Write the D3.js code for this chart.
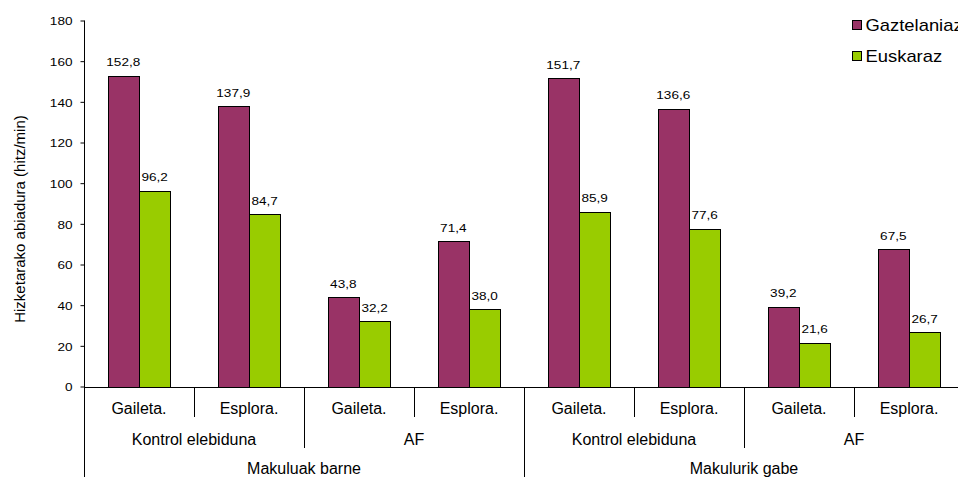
<!DOCTYPE html>
<html><head><meta charset="utf-8">
<script src="https://cdn.jsdelivr.net/npm/d3@7"></script>
<style>
html,body{margin:0;padding:0;background:#fff;overflow:hidden}
svg{display:block;font-family:"Liberation Sans",Arial,sans-serif}
</style></head>
<body>
<svg id="c" width="958" height="477"></svg>
<script>
const categories = ["Gaileta.","Esplora.","Gaileta.","Esplora.","Gaileta.","Esplora.","Gaileta.","Esplora."];
const groups = ["Kontrol elebiduna","AF","Kontrol elebiduna","AF"];
const supergroups = ["Makuluak barne","Makulurik gabe"];
const seriesNames = ["Gaztelaniaz","Euskaraz"];
const gaztelaniaz = [152.8,137.9,43.8,71.4,151.7,136.6,39.2,67.5];
const euskaraz = [96.2,84.7,32.2,38.0,85.9,77.6,21.6,26.7];
const yTicks = [0,20,40,60,80,100,120,140,160,180];
const yTitle = "Hizketarako abiadura (hitz/min)";
const colors = ["#993366","#99cc00"];

const svg = d3.select("#c");
const X0 = 84, CW = 110;
const idx = d3.range(categories.length);
const x = d3.scaleBand().domain(idx).range([X0, X0 + CW*categories.length]).padding(0);
const xs = d3.scaleBand().domain([0,1]).range([0, x.bandwidth()]).paddingInner(0).paddingOuter(0.75);
const y = d3.scaleLinear().domain([0,180]).range([386.5, 20.5]);
const sx = 1.15;

// bars
const series = [gaztelaniaz, euskaraz];
series.forEach((vals, s) => {
  svg.append("g").selectAll("rect").data(vals).join("rect")
    .attr("x", (d,i) => Math.round(x(i) + xs(s)) + 0.5)
    .attr("y", d => Math.round(y(d)) + 0.5)
    .attr("width", Math.round(xs.bandwidth()))
    .attr("height", d => Math.round(y(0)) - Math.round(y(d)))
    .attr("fill", colors[s]).attr("stroke", "#000").attr("stroke-width", 1);
  svg.append("g").selectAll("text").data(vals).join("text")
    .attr("transform", (d,i) => `translate(${x(i) + xs(s) + xs.bandwidth()/2},${y(d) - 9.5}) scale(${sx},1)`)
    .attr("text-anchor", "middle").attr("font-size", 11.8).attr("fill", "#000")
    .text(d => d.toFixed(1).replace(".", ","));
});

// y axis
const yAxis = svg.append("g").attr("transform", `translate(${X0 + 0.5},0)`)
  .call(d3.axisLeft(y).tickValues(yTicks).tickSize(4).tickSizeOuter(0));
yAxis.select(".domain").remove();
yAxis.selectAll(".tick line").attr("stroke", "#000");
yAxis.selectAll(".tick text").attr("x", null).attr("dy", null)
  .attr("transform", "translate(-12,4.2) scale(" + sx + ",1)")
  .attr("font-size", 11.8).attr("font-family", "Liberation Sans, Arial, sans-serif").attr("fill", "#000");
svg.append("line").attr("x1", X0 + 0.5).attr("x2", X0 + 0.5).attr("y1", y(180)).attr("y2", 477).attr("stroke", "#000");

// x axis base line
svg.append("line").attr("x1", X0).attr("x2", 958).attr("y1", Math.round(y(0)) + 0.5).attr("y2", Math.round(y(0)) + 0.5).attr("stroke", "#000");

const base = Math.round(y(0)) + 0.5;
// level ticks
const bounds = d3.range(categories.length + 1);
bounds.forEach(b => {
  const xx = Math.round(X0 + b*CW) + 0.5;
  let y2 = 417;
  if (b % 2 === 0) y2 = 448;
  if (b % 4 === 0) y2 = 477;
  svg.append("line").attr("x1", xx).attr("x2", xx).attr("y1", base).attr("y2", y2).attr("stroke", "#000");
});
const lab = svg.append("g").attr("font-size", 16).attr("fill", "#000").attr("text-anchor", "middle");
categories.forEach((c,i) => lab.append("text").attr("x", x(i) + CW/2).attr("y", 413.5).text(c));
groups.forEach((g,i) => lab.append("text").attr("x", X0 + CW*(2*i + 1)).attr("y", 444.5).text(g));
supergroups.forEach((g,i) => lab.append("text").attr("x", X0 + CW*(4*i + 2)).attr("y", 473.5).text(g));

// y title
svg.append("text").attr("transform", "translate(25,219) rotate(-90)")
  .attr("text-anchor", "middle").attr("font-size", 15).attr("fill", "#000").text(yTitle);

// legend
const lg = svg.append("g");
seriesNames.forEach((n,i) => {
  const yy = 20 + i*31;
  lg.append("rect").attr("x", 852.5).attr("y", yy + 0.5).attr("width", 9).attr("height", 9)
    .attr("fill", colors[i]).attr("stroke", "#000");
  lg.append("text").attr("transform", `translate(865.5,${yy + 11}) scale(${sx},1)`)
    .attr("font-size", 16).attr("fill", "#000").text(n);
});
</script>
</body></html>
